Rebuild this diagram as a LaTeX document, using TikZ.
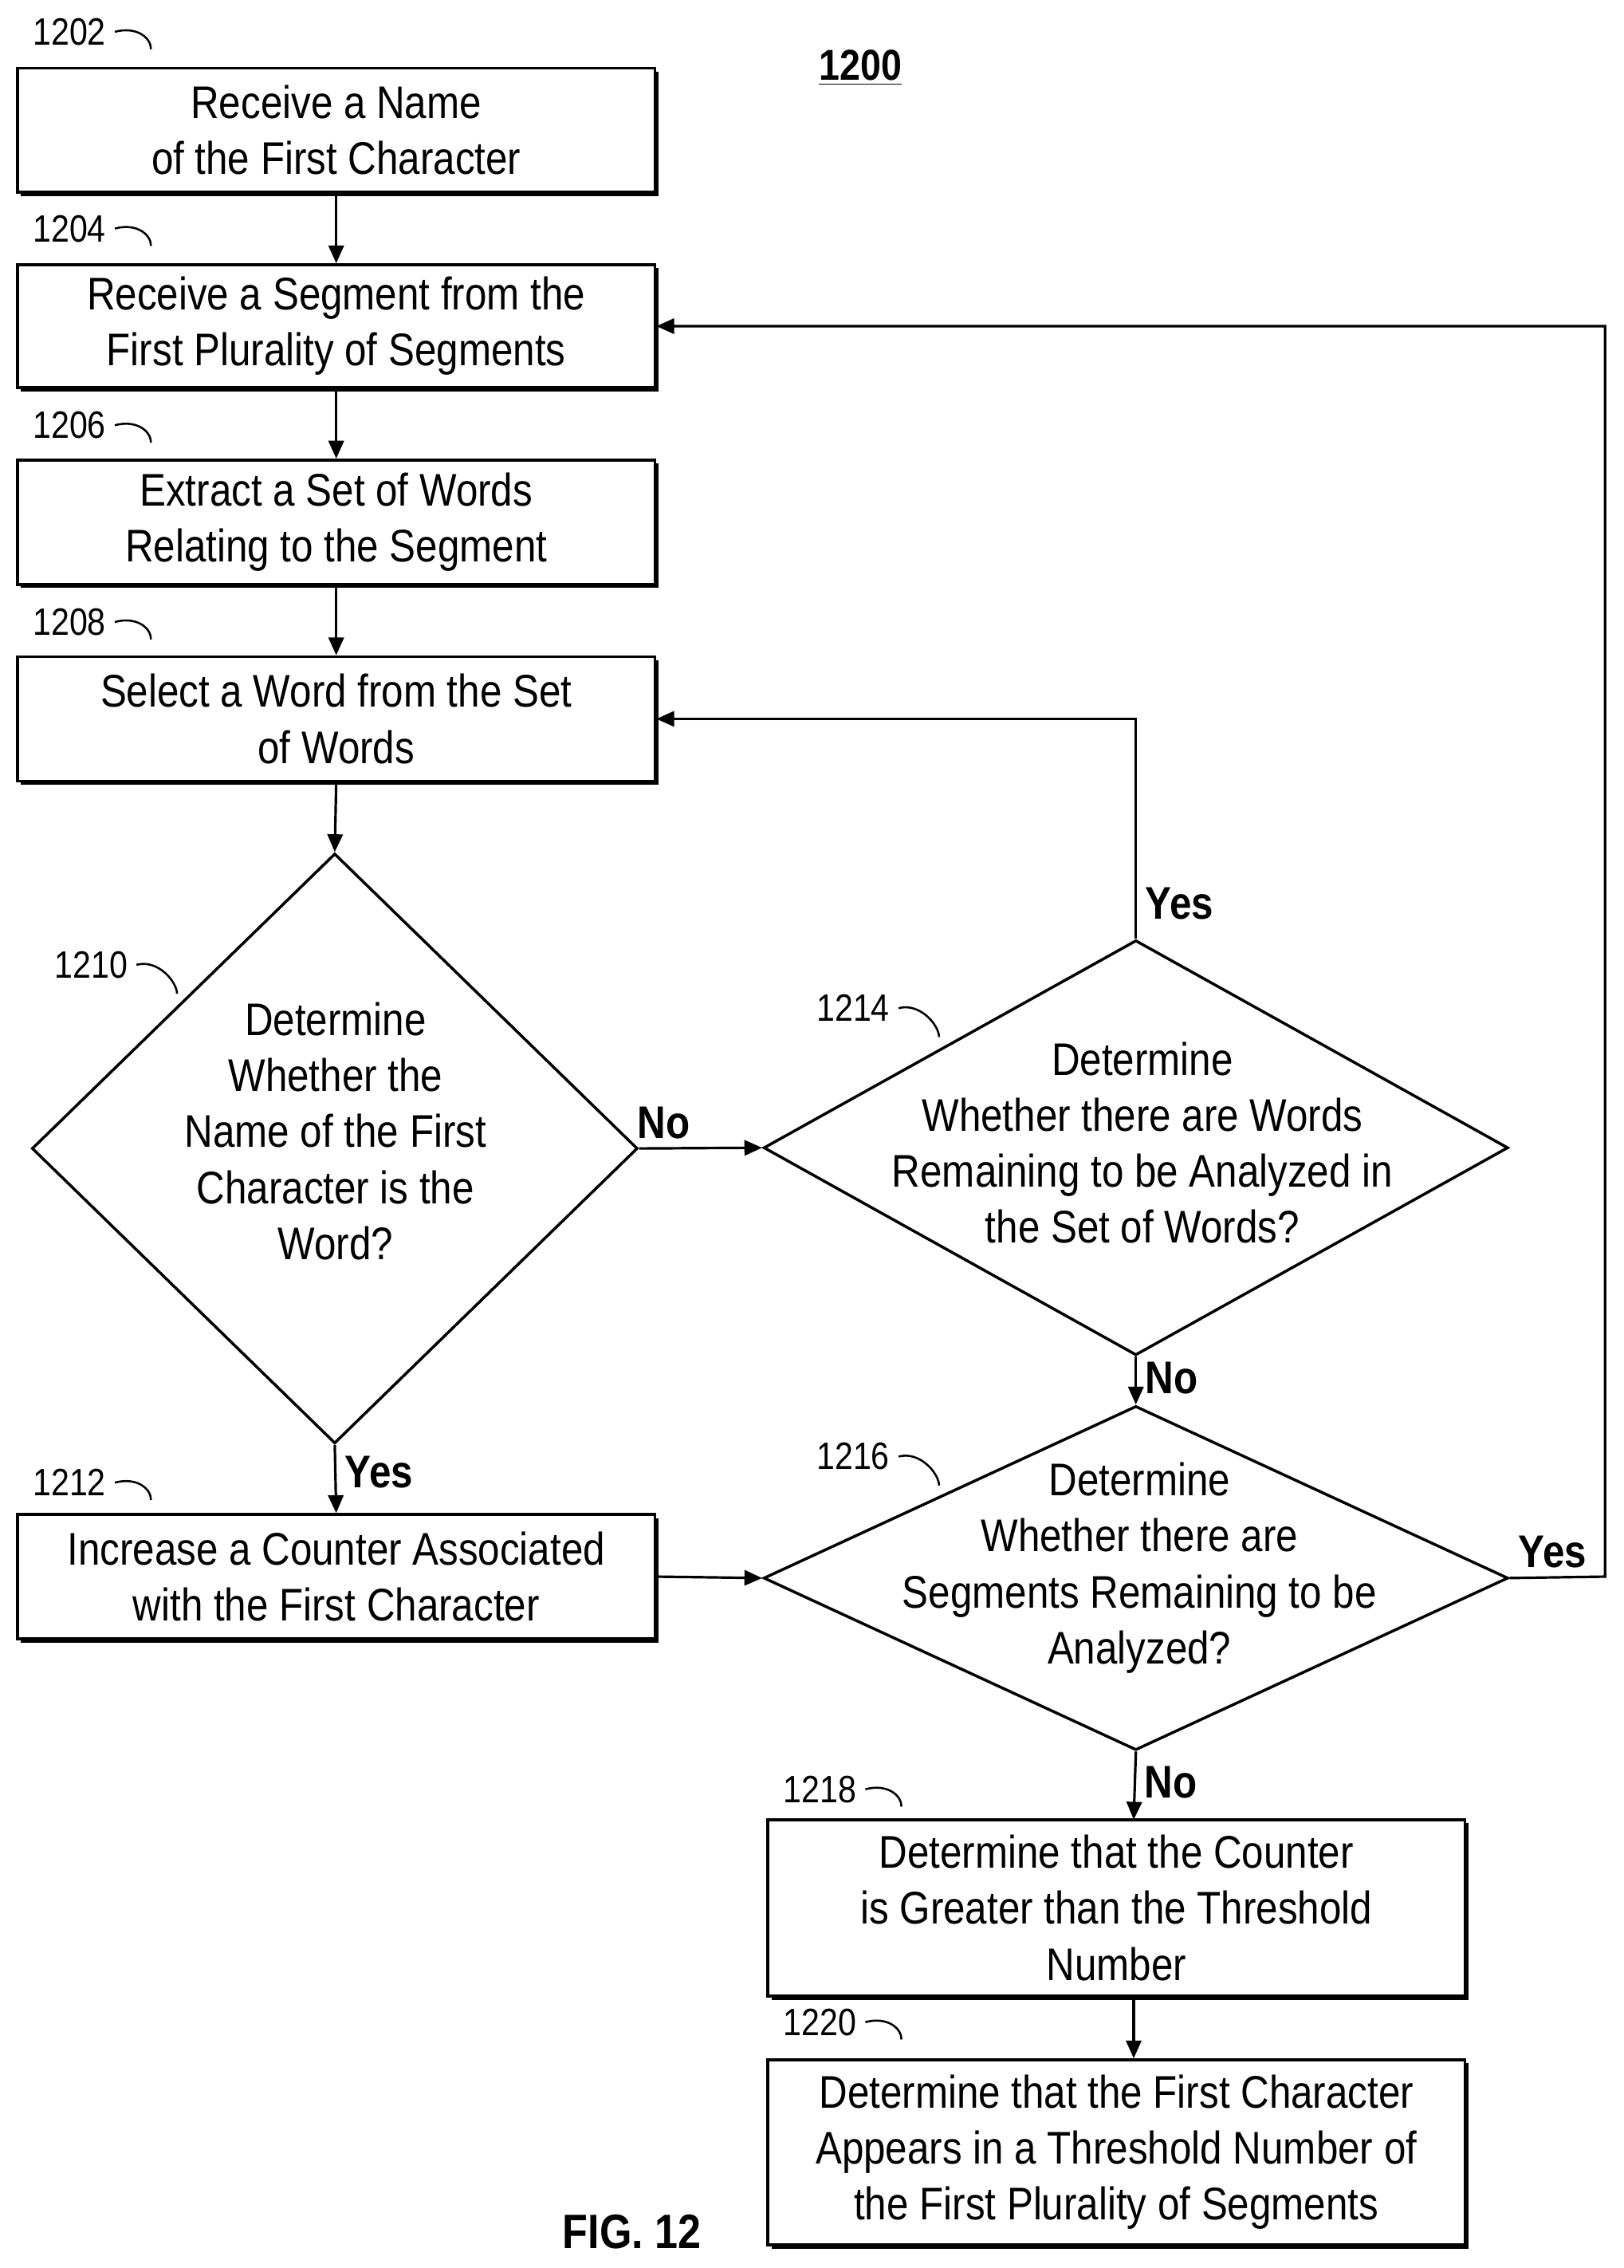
\documentclass[tikz,border=0pt]{standalone}
\usepackage{fontspec}
\setmainfont{Liberation Sans}[FakeStretch=0.86]
\usetikzlibrary{shapes.geometric,shadows,arrows.meta}
\begin{document}
\begin{tikzpicture}[x=0.02cm,y=-0.02cm,
  box/.style={draw,line width=1.1pt,fill=white,inner sep=0pt,align=center,
    drop shadow={shadow xshift=0.05cm,shadow yshift=-0.05cm,fill=black,opacity=1},
    font=\fontsize{18}{22}\selectfont},
  dia/.style={draw,line width=1.1pt,diamond,inner sep=0pt},
  txt/.style={align=center,font=\fontsize{18}{22}\selectfont},
  lab/.style={font=\fontsize{15}{18}\selectfont},
  yn/.style={font=\bfseries\fontsize{18}{22}\selectfont},
  arr/.style={-{Triangle[length=7pt,width=6pt]},line width=1pt},
  tick/.style={line width=0.8pt}]
\useasboundingbox (0,0) rectangle (1123,1568);
\node[box,minimum width=8.82cm,minimum height=1.72cm] (b1202) at (232.5,90) {Receive a Name\\of the First Character};
\node[box,minimum width=8.82cm,minimum height=1.70cm] (b1204) at (232.5,225.5) {Receive a Segment from the\\First Plurality of Segments};
\node[box,minimum width=8.82cm,minimum height=1.72cm] (b1206) at (232.5,361) {Extract a Set of Words\\Relating to the Segment};
\node[box,minimum width=8.82cm,minimum height=1.72cm] (b1208) at (232.5,497) {Select a Word from the Set\\of Words};
\node[dia,minimum width=8.38cm,minimum height=8.16cm] (d1210) at (231.5,794) {};
\node[txt] (t1210) at (232,782) {Determine\\Whether the\\Name of the First\\Character is the\\Word?};
\node[dia,minimum width=10.3cm,minimum height=5.74cm] (d1214) at (785.5,793.5) {};
\node[txt] (t1214) at (790,790) {Determine\\Whether there are Words\\Remaining to be Analyzed in\\the Set of Words?};
\node[dia,minimum width=10.3cm,minimum height=4.76cm] (d1216) at (785.5,1091) {};
\node[txt] (t1216) at (788,1084) {Determine\\Whether there are\\Segments Remaining to be\\Analyzed?};
\node[box,minimum width=8.82cm,minimum height=1.72cm] (b1212) at (232.5,1090) {Increase a Counter Associated\\with the First Character};
\node[box,minimum width=9.64cm,minimum height=2.44cm] (b1218) at (772,1319) {Determine that the Counter\\is Greater than the Threshold\\Number};
\node[box,minimum width=9.64cm,minimum height=2.56cm] (b1220) at (772,1488) {Determine that the First Character\\Appears in a Threshold Number of\\the First Plurality of Segments};
% labels
\node[lab] (l1202) at (48,22) {1202};
\node[lab] (l1204) at (48,158) {1204};
\node[lab] (l1206) at (48,294) {1206};
\node[lab] (l1208) at (48,430) {1208};
\node[lab] (l1210) at (63,667) {1210};
\node[lab] (l1212) at (48,1025) {1212};
\node[lab] (l1214) at (590,697) {1214};
\node[lab] (l1216) at (590,1007) {1216};
\node[lab] (l1218) at (567,1237) {1218};
\node[lab] (l1220) at (567,1398) {1220};
\foreach \n in {1202,1204,1206,1208,1212,1218,1220}
  \draw[tick] (l\n.east) .. controls ++(15,-4) and ++(0,-8) .. ++(25,12);
\foreach \n in {1210,1214,1216}
  \draw[tick] (l\n.east) .. controls ++(15,-4) and ++(0,-8) .. ++(28,20);
\node[font=\bfseries\fontsize{17}{20}\selectfont] (t1200) at (595,47) {\underline{1200}};
\node[font=\bfseries\fontsize{19}{22}\selectfont] (fig) at (437,1543) {FIG. 12};
% connectors
\draw[arr] (b1202.south) -- (b1204.north);
\draw[arr] (b1204.south) -- (b1206.north);
\draw[arr] (b1206.south) -- (b1208.north);
\draw[arr] (b1208.south) -- (d1210.north);
\draw[arr] (d1210.east) -- node[yn,above,pos=0.2] {No} (d1214.west);
\draw[arr] (d1210.south) -- node[yn,right,pos=0.4] {Yes} (b1212.north);
\draw[arr] (b1212.east) -- (d1216.west);
\draw[arr] (d1214.north) |- node[yn,right,pos=0.08] {Yes} (b1208.east);
\draw[arr] (d1214.south) -- node[yn,right,pos=0.45] {No} (d1216.north);
\coordinate (c1) at (1110,1090);
\draw[arr] (d1216.east) -- node[yn,above,pos=0.45] {Yes} (c1) |- (b1204.east);
\coordinate (c2) at (784,1258);
\draw[arr] (d1216.south) -- node[yn,right,pos=0.45] {No} (c2);
\draw[arr] (b1218.south -| c2) -- (b1220.north -| c2);
\end{tikzpicture}
\end{document}
